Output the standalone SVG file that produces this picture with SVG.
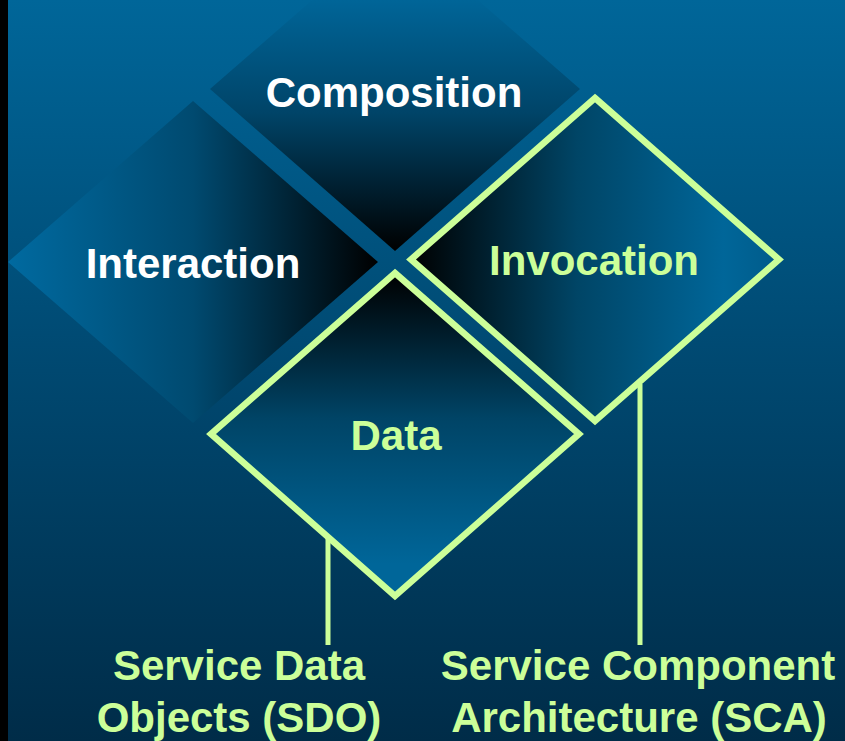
<svg xmlns="http://www.w3.org/2000/svg" width="845" height="741" viewBox="0 0 845 741">
  <defs>
    <linearGradient id="bg" x1="0" y1="0" x2="0" y2="741" gradientUnits="userSpaceOnUse">
      <stop offset="0" stop-color="#006699"/>
      <stop offset="0.5" stop-color="#004870"/>
      <stop offset="1" stop-color="#002c48"/>
    </linearGradient>
    <linearGradient id="gComp" x1="0" y1="0" x2="0" y2="251" gradientUnits="userSpaceOnUse">
      <stop offset="0" stop-color="#006598"/>
      <stop offset="0.45" stop-color="#004468"/>
      <stop offset="1" stop-color="#000000"/>
    </linearGradient>
    <linearGradient id="gInter" x1="8" y1="0" x2="378" y2="0" gradientUnits="userSpaceOnUse">
      <stop offset="0" stop-color="#006aa0"/>
      <stop offset="0.5" stop-color="#004a70"/>
      <stop offset="1" stop-color="#000000"/>
    </linearGradient>
    <linearGradient id="gInvo" x1="411" y1="0" x2="779" y2="0" gradientUnits="userSpaceOnUse">
      <stop offset="0" stop-color="#000000"/>
      <stop offset="0.45" stop-color="#004566"/>
      <stop offset="0.85" stop-color="#006699"/>
      <stop offset="1" stop-color="#005b8a"/>
    </linearGradient>
    <linearGradient id="gData" x1="0" y1="273" x2="0" y2="596" gradientUnits="userSpaceOnUse">
      <stop offset="0" stop-color="#000000"/>
      <stop offset="0.45" stop-color="#004466"/>
      <stop offset="0.9" stop-color="#006699"/>
      <stop offset="1" stop-color="#006699"/>
    </linearGradient>
  </defs>
  <style>
    .lbl { font-family: "Liberation Sans", Arial, sans-serif; font-weight: bold; font-size: 42px; text-anchor: middle; }
    .white { fill: #ffffff; }
    .green { fill: #ccff99; }
    .outline { stroke: #ccff99; stroke-width: 6.5; stroke-linejoin: miter; }
    .conn { stroke: #ccff99; stroke-width: 5; fill: none; }
  </style>
  <rect x="0" y="0" width="845" height="741" fill="url(#bg)"/>
  <rect x="0" y="0" width="8" height="741" fill="#000000"/>

  <g id="composition">
    <polygon points="210,89 395,-72 580,89 395,251" fill="url(#gComp)"/>
    <text class="lbl white" x="394" y="107">Composition</text>
  </g>
  <g id="interaction">
    <polygon points="8,262 193,101 378,262 193,423" fill="url(#gInter)"/>
    <text class="lbl white" x="193" y="278">Interaction</text>
  </g>
  <g id="invocation">
    <polygon class="outline" points="595,98 779,259.5 595,421 411,259.5" fill="url(#gInvo)"/>
    <text class="lbl green" x="594" y="275">Invocation</text>
  </g>
  <g id="data">
    <polygon class="outline" points="395,273 579,434 395,596 211,434" fill="url(#gData)"/>
    <text class="lbl green" x="396" y="450">Data</text>
  </g>

  <g id="connectors">
    <line class="conn" x1="328" y1="536" x2="328" y2="645"/>
    <line class="conn" x1="640" y1="384" x2="640" y2="645"/>
  </g>

  <g id="sdo">
    <text class="lbl green" x="239" y="680">Service Data</text>
    <text class="lbl green" x="239" y="732">Objects (SDO)</text>
  </g>
  <g id="sca">
    <text class="lbl green" x="638" y="680">Service Component</text>
    <text class="lbl green" x="639" y="732">Architecture (SCA)</text>
  </g>
</svg>
